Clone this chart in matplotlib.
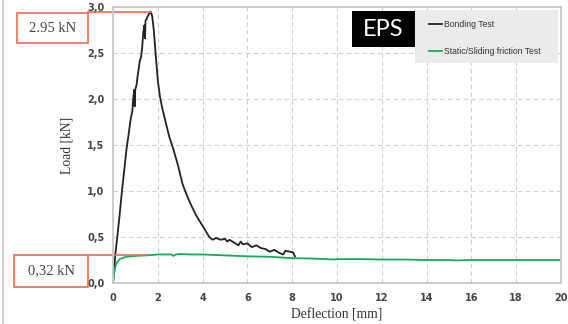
import matplotlib

matplotlib.use("Agg")

import matplotlib.pyplot as plt
from matplotlib.lines import Line2D
from matplotlib.patches import Rectangle
from matplotlib.ticker import FuncFormatter, MultipleLocator

# Bonding test curve (deflection mm, load kN)
bond_x = [0.0, 0.05, 0.1, 0.2, 0.3, 0.4, 0.5, 0.6, 0.7, 0.8, 0.86, 0.9, 0.95,
          0.97, 0.99, 1.05, 1.1, 1.2, 1.25, 1.3, 1.35, 1.4, 1.43, 1.45, 1.5,
          1.55, 1.62, 1.68, 1.75, 1.82, 1.9, 2.0, 2.1, 2.2, 2.3, 2.5, 2.7,
          2.9, 3.1, 3.3, 3.5, 3.7, 3.9, 4.1, 4.3, 4.45, 4.6, 4.8, 5.0, 5.1,
          5.2, 5.4, 5.6, 5.7, 5.8, 6.0, 6.2, 6.4, 6.6, 6.8, 7.0, 7.2, 7.4,
          7.6, 7.7, 7.9, 8.05, 8.12]
bond_y = [0.0, 0.15, 0.3, 0.52, 0.75, 1.0, 1.22, 1.45, 1.62, 1.8, 1.86, 2.0,
          2.1, 1.92, 2.1, 2.15, 2.25, 2.42, 2.45, 2.55, 2.72, 2.8, 2.66, 2.85,
          2.87, 2.9, 2.93, 2.95, 2.9, 2.75, 2.5, 2.2, 2.02, 1.9, 1.8, 1.6,
          1.45, 1.28, 1.08, 0.95, 0.84, 0.74, 0.66, 0.58, 0.5, 0.47, 0.49,
          0.47, 0.48, 0.45, 0.47, 0.44, 0.41, 0.45, 0.42, 0.43, 0.39, 0.41,
          0.38, 0.37, 0.34, 0.36, 0.33, 0.31, 0.35, 0.34, 0.33, 0.29]

# Static / sliding friction test curve
fric_x = [0.0, 0.05, 0.1, 0.15, 0.2, 0.3, 0.4, 0.6, 0.8, 1.0, 1.5, 2.0, 2.6,
          2.7, 2.8, 3.0, 3.5, 4.0, 5.0, 6.0, 7.0, 8.0, 9.0, 9.9, 10.0, 11.0,
          12.0, 13.0, 14.0, 15.0, 15.3, 16.0, 17.0, 18.0, 19.0, 20.0]
fric_y = [0.0, 0.1, 0.17, 0.21, 0.23, 0.26, 0.27, 0.285, 0.29, 0.295, 0.30,
          0.31, 0.31, 0.295, 0.31, 0.315, 0.31, 0.31, 0.30, 0.29, 0.285,
          0.27, 0.265, 0.255, 0.26, 0.26, 0.255, 0.255, 0.25, 0.25, 0.245,
          0.25, 0.25, 0.25, 0.25, 0.25]

peak_x, peak_y = 1.68, 2.95
static_end_x, static_y = 1.5, 0.30
peak_label = "2.95 kN"
static_label = "0,32 kN"

W, H = 568, 324
RED = "#ef6b50"


def px(x, y):
    return x / W, 1 - y / H


fig = plt.figure(figsize=(W / 100, H / 100), dpi=100)
ax = fig.add_axes([113 / W, 1 - 283 / H, 448 / W, 276 / H])

bond_line, = ax.plot(bond_x, bond_y, color="#222222", lw=1.3, label="Bonding Test")
fric_line, = ax.plot(fric_x, fric_y, color="#1aa85a", lw=1.3,
                     label="Static/Sliding friction Test")

ax.set_xlim(0, 20)
ax.set_ylim(0, 3.0)
ax.xaxis.set_major_locator(MultipleLocator(2))
ax.yaxis.set_major_locator(MultipleLocator(0.5))
ax.yaxis.set_major_formatter(FuncFormatter(lambda v, _: f"{v:.1f}".replace(".", ",")))
ax.grid(True, color="#d0d0d0", ls=(0, (4, 3)), lw=0.8)
ax.tick_params(length=0, labelsize=7, labelcolor="#444444")
ax.tick_params(axis="y", pad=6)
ax.tick_params(axis="x", pad=7)
for t in ax.get_xticklabels() + ax.get_yticklabels():
    t.set_fontweight("bold")
for s in ax.spines.values():
    s.set_color("#c8c8c8")
    s.set_linewidth(1.3)

ax.set_xlabel("Deflection [mm]", family="Liberation Serif", fontsize=9.8,
              color="#333333", labelpad=4)
ax.set_ylabel("Load [kN]", family="Liberation Serif", fontsize=9.8,
              color="#333333", labelpad=10)

# red reference lines, from box edge to the curve
box_edge_x = (88 - 113) / 448 * 20
ax.plot([box_edge_x, peak_x], [peak_y, peak_y], color=RED, lw=1.2, clip_on=False)
ax.plot([box_edge_x, static_end_x], [static_y, static_y], color=RED, lw=1.2,
        clip_on=False)

# annotation boxes
for (x0, y0, x1, y1), label in [((17, 13, 88, 43), peak_label),
                                ((14, 255, 88, 287), static_label)]:
    fx, fy = px(x0, y1)
    fig.patches.append(Rectangle((fx, fy), (x1 - x0) / W, (y1 - y0) / H,
                                 transform=fig.transFigure, fill=False,
                                 edgecolor=RED, lw=1.2))
    cx, cy = px((x0 + x1) / 2, (y0 + y1) / 2)
    fig.text(cx, cy, label, ha="center", va="center", family="Liberation Serif",
             fontsize=10.5, color="#444444")

# EPS badge
bx, by = px(352, 47)
fig.patches.append(Rectangle((bx, by), 63 / W, 36 / H, transform=fig.transFigure,
                             facecolor="black", edgecolor="none"))
cx, cy = px(383.5, 29)
fig.text(cx, cy, "EPS", ha="center", va="center", family="Lato", fontsize=17,
         color="white")

# legend background
lx, ly = px(415, 63)
fig.patches.append(Rectangle((lx, ly), 143 / W, 53 / H, transform=fig.transFigure,
                             facecolor="#ebebeb", edgecolor="none"))
leg = fig.legend(handles=[bond_line, fric_line], loc="upper left",
                 bbox_to_anchor=px(425, 16), bbox_transform=fig.transFigure,
                 frameon=False, prop={"family": "Liberation Sans", "size": 6.2},
                 handlelength=1.5, handletextpad=0.25, labelspacing=2.1,
                 borderpad=0, labelcolor="#333333")
leg.set_zorder(10)

# outer frame line on the left
fig.add_artist(Line2D([3 / W, 3 / W], [0, 1], transform=fig.transFigure,
                      color="#cfcfcf", lw=1.5))

fig.savefig("out.png", dpi=100)
